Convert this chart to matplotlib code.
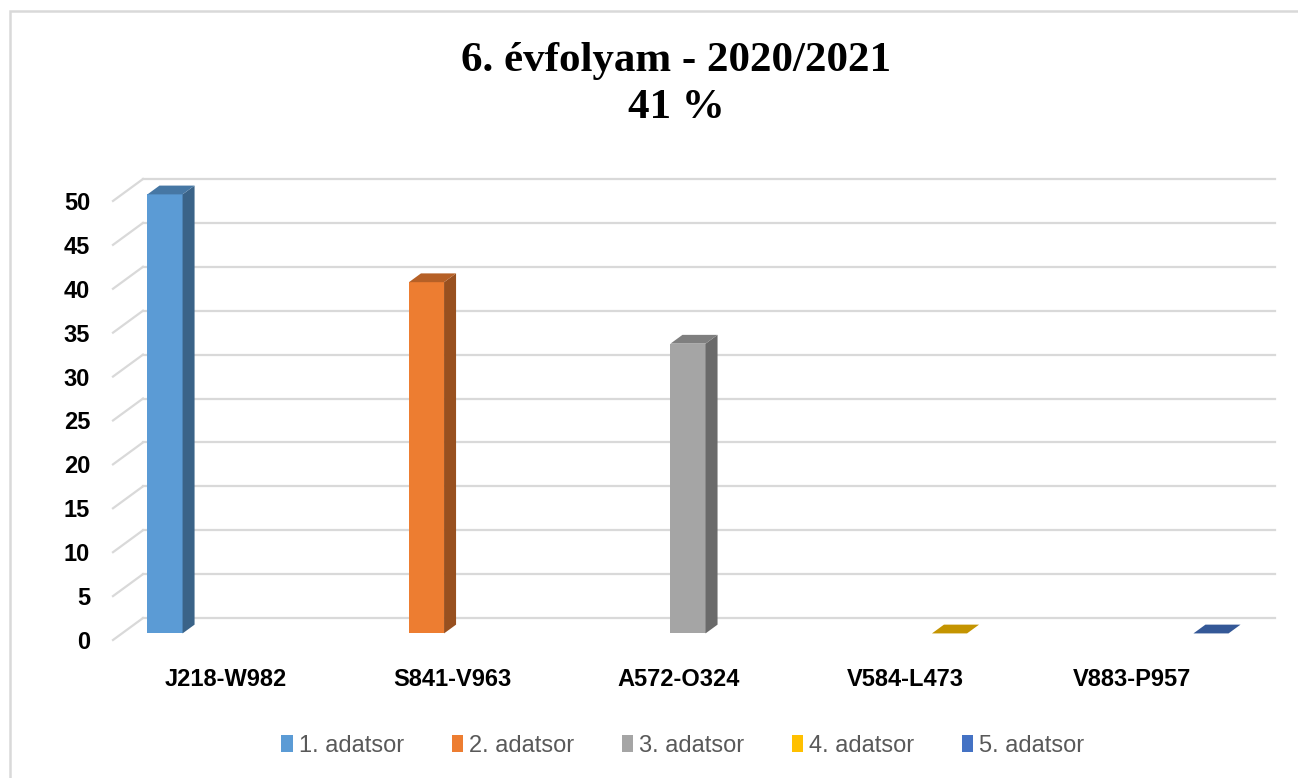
import matplotlib.pyplot as plt
from matplotlib.patches import Polygon, Patch, Rectangle
import numpy as np

# dados
categorias = ['J218-W982', 'S841-V963', 'A572-O324', 'V584-L473', 'V883-P957']
series = ['1. adatsor', '2. adatsor', '3. adatsor', '4. adatsor', '5. adatsor']
valores = [50, 40, 33, 0, 0]   # serie i has a value only in category i
cores = ['#5B9BD5', '#ED7D31', '#A5A5A5', '#FFC000', '#4472C4']
yticks = list(range(0, 55, 5))


def escurecer(cor, f):
    r, g, b = [int(cor[k:k + 2], 16) / 255 for k in (1, 3, 5)]
    return (r * f, g * f, b * f)


fig = plt.figure(figsize=(12.98, 7.78), dpi=100)
ax = fig.add_axes([113 / 1298, 138 / 778, 1162 / 1298, 461 / 778])

# profundidade do "3D" em unidades de dados
DX, DY = 0.1325, 2.5
d0, d1 = 0.3, 0.7
n = len(series)
larg = 0.155
folga = (1 - n * larg) / 2

# parede do fundo e linhas diagonais
grid_cor = '#D9D9D9'
for v in yticks:
    ax.plot([DX, len(categorias) + DX], [v + DY, v + DY], color=grid_cor, lw=1.6, zorder=1, clip_on=False)
    ax.plot([0, DX], [v, v + DY], color=grid_cor, lw=1.6, zorder=1, clip_on=False)

# barras
for i, (v, c) in enumerate(zip(valores, cores)):
    x0 = i + folga + i * larg + d0 * DX
    xb = x0 + (d1 - d0) * DX
    yb = d0 * DY
    yt = yb + (d1 - d0) * DY
    ax.bar(x0, v, width=larg, bottom=yb, align='edge', color=c, zorder=3, linewidth=0)
    lado = [(x0 + larg, yb), (xb + larg, yt), (xb + larg, v + yt), (x0 + larg, v + yb)]
    topo = [(x0, v + yb), (x0 + larg, v + yb), (xb + larg, v + yt), (xb, v + yt)]
    ax.add_patch(Polygon(lado, closed=True, facecolor=escurecer(c, 0.64), edgecolor='none', zorder=3))
    ax.add_patch(Polygon(topo, closed=True, facecolor=escurecer(c, 0.77), edgecolor='none', zorder=4))

ax.set_xlim(0, len(categorias) + DX)
ax.set_ylim(0, 50 + DY)
for s in ax.spines.values():
    s.set_visible(False)

ax.set_yticks(yticks)
ax.set_yticklabels([str(t) for t in yticks], fontsize=17, fontweight='bold', family='Liberation Sans')
ax.tick_params(axis='y', length=0, pad=16.5)
ax.set_xticks(np.arange(len(categorias)) + 0.5)
ax.set_xticklabels(categorias, fontsize=17, fontweight='bold', family='Liberation Sans')
ax.tick_params(axis='x', length=0, pad=20)

# titulo
fig.text(676 / 1298, 1 - 61 / 778, '6. évfolyam - 2020/2021', ha='center', va='center',
         fontsize=31, fontweight='bold', family='Liberation Serif')
fig.text(676 / 1298, 1 - 108 / 778, '41 %', ha='center', va='center',
         fontsize=31, fontweight='bold', family='Liberation Serif')

# legenda
handles = [Patch(facecolor=c, edgecolor='none') for c in cores]
fig.legend(handles, series, loc='center', bbox_to_anchor=(683 / 1298, 1 - 746 / 778), ncol=5,
           frameon=False, labelcolor='#595959', handlelength=0.5, handleheight=0.75,
           handletextpad=0.25, columnspacing=2.0, prop={'family': 'Liberation Sans', 'size': 17})

# borda do grafico
fig.add_artist(Rectangle((10 / 1298, -0.1), 1.2, 1 - 11 / 778 + 0.1, transform=fig.transFigure,
                         facecolor='none', edgecolor='#D9D9D9', lw=1.8))

fig.savefig('out.png', dpi=100)
